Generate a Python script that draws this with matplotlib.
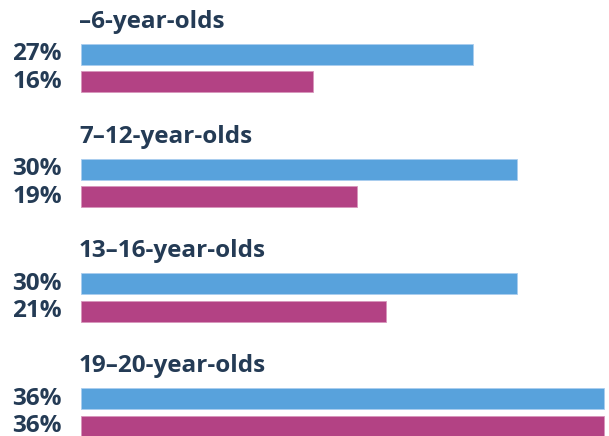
import matplotlib
matplotlib.use("Agg")
import matplotlib.pyplot as plt

groups = ["–6-year-olds", "7–12-year-olds", "13–16-year-olds", "19–20-year-olds"]
blue_vals = [27, 30, 30, 36]
magenta_vals = [16, 19, 21, 36]
blue_labels = ["27%", "30%", "30%", "36%"]
magenta_labels = ["16%", "19%", "21%", "36%"]

BLUE = "#58a2dc"
MAGENTA = "#b34284"
TEXT = "#243b55"

plt.rcParams['font.family'] = ['Open Sans', 'DejaVu Sans']

W, H = 609, 436
fig = plt.figure(figsize=(W / 100, H / 100), dpi=100)
ax = fig.add_axes([0, 0, 1, 1])
ppp = 14.53  # pixels per percent
x0 = 81
ax.set_xlim(-x0 / ppp, (W - x0) / ppp)
ax.set_ylim(H, 0)
ax.axis('off')

step = 114.7
bh = 21
FS = 17.5
for i, g in enumerate(groups):
    yb = 54.5 + i * step
    ym = 82.0 + i * step
    yt = 22 + i * step
    ax.barh(yb, blue_vals[i], height=bh, left=0, color=BLUE,
            edgecolor="#a9cdef", linewidth=0.6)
    ax.barh(ym, magenta_vals[i], height=bh, left=0, color=MAGENTA,
            edgecolor="#d796bc", linewidth=0.6)
    ax.annotate(g, xy=(0, yt), xytext=(-2, 0), textcoords='offset pixels',
                ha='left', va='center', fontsize=FS, fontweight='bold', color=TEXT)
    ax.annotate(blue_labels[i], xy=(0, yb), xytext=(-19, 0), textcoords='offset pixels',
                ha='right', va='center', fontsize=FS, fontweight='bold', color=TEXT)
    ax.annotate(magenta_labels[i], xy=(0, ym), xytext=(-19, 0), textcoords='offset pixels',
                ha='right', va='center', fontsize=FS, fontweight='bold', color=TEXT)

fig.savefig("out.png", dpi=100)
